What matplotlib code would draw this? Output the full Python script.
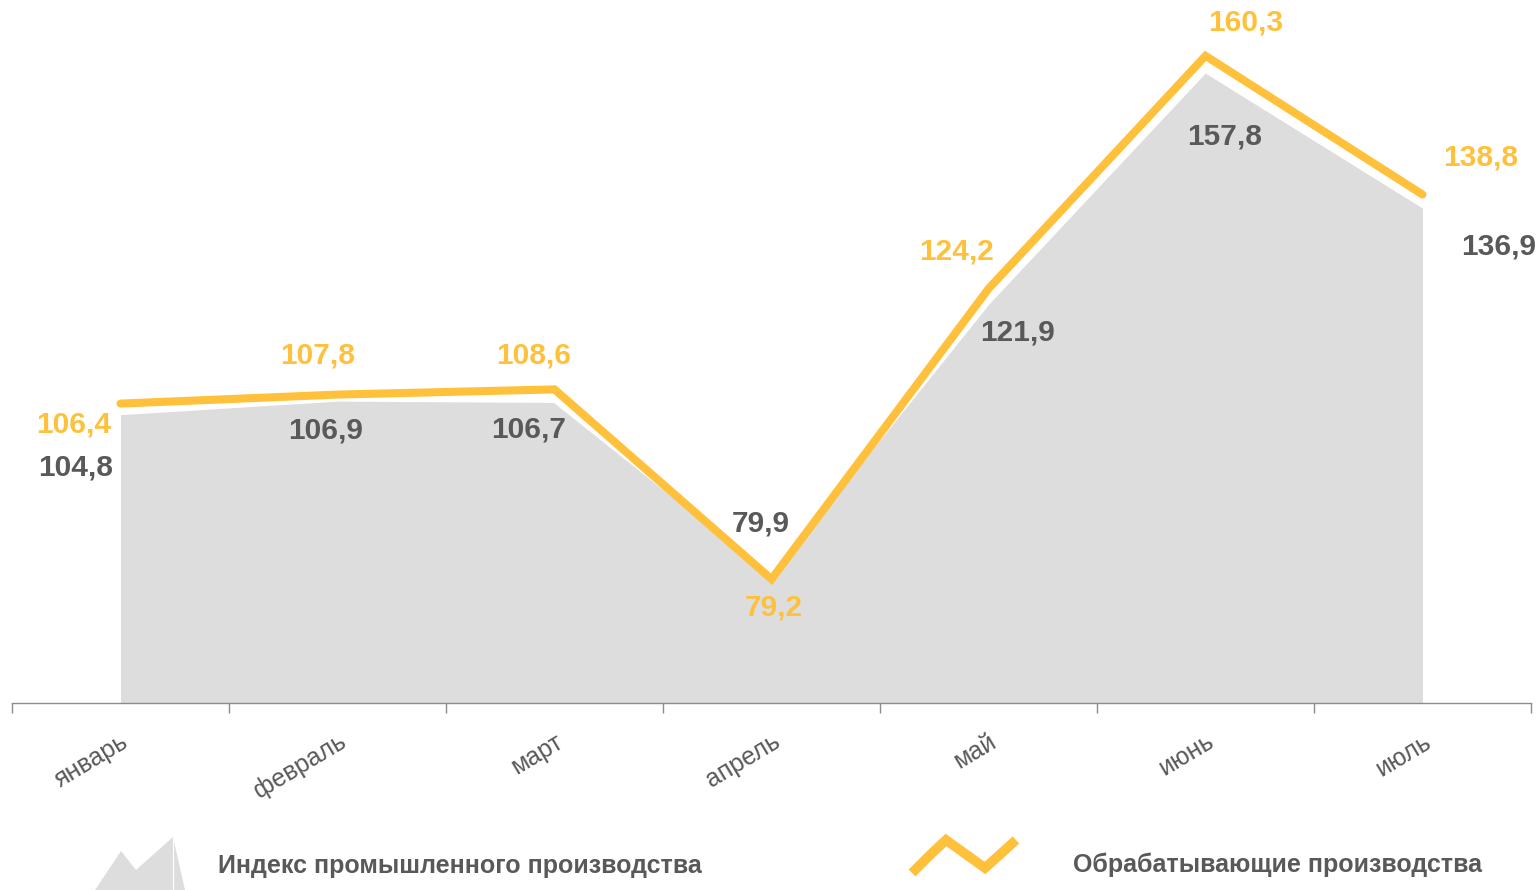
import matplotlib
matplotlib.use("Agg")
import matplotlib.pyplot as plt
from matplotlib.patches import Polygon
from matplotlib.lines import Line2D

plt.rcParams['font.family'] = ['Liberation Sans', 'DejaVu Sans']

months = ["январь", "февраль", "март", "апрель", "май", "июнь", "июль"]
industrial_index = [104.8, 106.9, 106.7, 79.9, 121.9, 157.8, 136.9]
manufacturing = [106.4, 107.8, 108.6, 79.2, 124.2, 160.3, 138.8]
legend_labels = ["Индекс промышленного производства", "Обрабатывающие производства"]

GRAY_FILL = "#DDDDDD"
YELLOW = "#FFC13B"
TEXT_GRAY = "#595959"

W, H = 1540, 890
fig = plt.figure(figsize=(W / 100, H / 100), dpi=100)
ax = fig.add_axes([12 / W, (H - 703) / H, (1531 - 12) / W, (703 - 10) / H])

x = list(range(len(months)))
ax.fill_between(x, industrial_index, 60, color=GRAY_FILL, lw=0, zorder=1)
ax.plot(x, industrial_index, color="white", lw=1.8, zorder=2)
ax.plot(x, manufacturing, color=YELLOW, lw=5.8, solid_capstyle="round",
        solid_joinstyle="miter", zorder=3)

ax.set_xlim(-0.5, len(months) - 0.5)
ax.set_ylim(60, 167.4)

for s in ["top", "right", "left"]:
    ax.spines[s].set_visible(False)
ax.spines["bottom"].set_color("#8C8C8C")
ax.spines["bottom"].set_linewidth(1.0)
ax.yaxis.set_visible(False)

ax.set_xticks(x)
ax.set_xticks([i - 0.5 for i in range(len(months) + 1)], minor=True)
ax.tick_params(axis="x", which="major", length=0, pad=19)
ax.tick_params(axis="x", which="minor", length=7, color="#8C8C8C", width=1)
ax.set_xticklabels(months, rotation=31, ha="right", va="top",
                   rotation_mode="anchor", fontsize=18, color=TEXT_GRAY)
for lbl in ax.get_xticklabels():
    lbl.set_x(lbl.get_position()[0])

# data labels (offsets in pixels)
y_off = [(-47, -21), (-20, 39), (-21, 34), (2, -28), (-32, 37), (40, 33), (58, 37)]
g_off = [(-45, -54), (-12, -30), (-26, -28), (-11, 51), (29, -29), (19, -65), (76, -40)]
for i in x:
    ax.annotate(f"{manufacturing[i]:.1f}".replace(".", ","), (i, manufacturing[i]),
                xytext=y_off[i], textcoords="offset pixels", ha="center", va="center",
                fontsize=21.5, fontweight="bold", color=YELLOW, zorder=5)
    ax.annotate(f"{industrial_index[i]:.1f}".replace(".", ","), (i, industrial_index[i]),
                xytext=g_off[i], textcoords="offset pixels", ha="center", va="center",
                fontsize=21.5, fontweight="bold", color=TEXT_GRAY, zorder=5)

# legend (manual)
def fx(px):
    return px / W

def fy(py):
    return (H - py) / H

mountain = [(95, 890), (121, 851), (136, 870), (173, 837), (185, 890)]
fig.patches.append(Polygon([(fx(a), fy(b)) for a, b in mountain], closed=True,
                           transform=fig.transFigure, facecolor=GRAY_FILL,
                           edgecolor="none"))
fig.lines.append(Line2D([fx(173), fx(173)], [fy(837), fy(890)],
                        transform=fig.transFigure, color="white", lw=0.8))
fig.text(fx(218), fy(866), legend_labels[0], ha="left", va="center",
         fontsize=18, fontweight="bold", color=TEXT_GRAY)

zig = [(912, 873), (930, 855), (946, 840), (985, 868), (1016, 840)]
fig.lines.append(Line2D([fx(a) for a, b in zig], [fy(b) for a, b in zig],
                        transform=fig.transFigure, color=YELLOW, lw=7,
                        solid_joinstyle="miter", solid_capstyle="butt"))
fig.text(fx(1073), fy(865), legend_labels[1], ha="left", va="center",
         fontsize=18, fontweight="bold", color=TEXT_GRAY)

fig.savefig("out.png", dpi=100)
